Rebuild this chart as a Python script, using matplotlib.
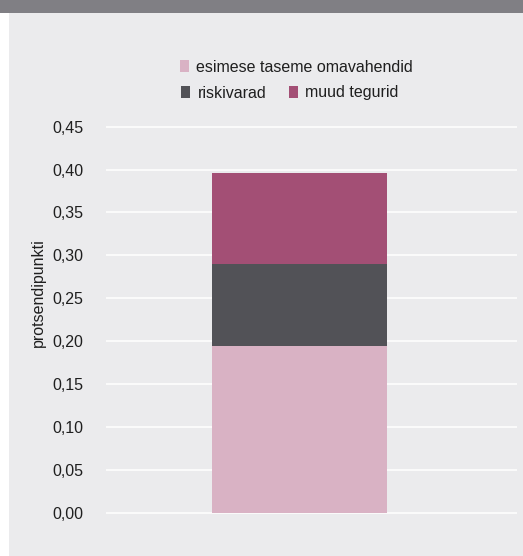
import matplotlib.pyplot as plt
from matplotlib.patches import Rectangle

plt.rcParams['font.family'] = ['Liberation Sans', 'DejaVu Sans']

# Stacked components (percentage points)
categories = ['']
tier1_capital = [0.194]
risk_assets = [0.096]
other_factors = [0.106]

series_labels = ['esimese taseme omavahendid', 'riskivarad', 'muud tegurid']
series_colors = ['#d9b2c4', '#525257', '#a34f75']
yticks = [0.00, 0.05, 0.10, 0.15, 0.20, 0.25, 0.30, 0.35, 0.40, 0.45]

W, H = 523, 556
fig = plt.figure(figsize=(W / 100, H / 100), dpi=100)
fig.patch.set_facecolor('white')

# panel background and top band
fig.patches.append(Rectangle((9 / W, 0), 1 - 9 / W, 1 - 13 / H, transform=fig.transFigure,
                             facecolor='#ebebed', edgecolor='none', zorder=-2))
fig.patches.append(Rectangle((0, 1 - 13 / H), 1, 13 / H, transform=fig.transFigure,
                             facecolor='#807f84', edgecolor='none', zorder=-2))

pad = 0.003
ppu = 386 / 0.45
ax_bottom = (H - 512.7 - pad * ppu) / H
ax_height = (386 + 2 * pad * ppu) / H
ax = fig.add_axes([106 / W, ax_bottom, 411 / W, ax_height])
ax.set_facecolor('none')

x = [0]
width = 0.4258
b1 = ax.bar(x, tier1_capital, width=width, color=series_colors[0], zorder=3)
b2 = ax.bar(x, risk_assets, width=width, bottom=tier1_capital, color=series_colors[1], zorder=3)
bottom3 = [a + b for a, b in zip(tier1_capital, risk_assets)]
b3 = ax.bar(x, other_factors, width=width, bottom=bottom3, color=series_colors[2], zorder=3)

ax.set_xlim(-0.4708, 0.5292)
ax.set_ylim(-pad, 0.45 + pad)
ax.set_yticks(yticks)
ax.set_yticklabels([f'{v:.2f}'.replace('.', ',') for v in yticks], fontsize=11.5, color='#1f1f1f')
ax.set_xticks([])
ax.tick_params(axis='y', length=0, pad=16.5)
ax.grid(axis='y', color='white', linewidth=1.1, zorder=0)
for s in ax.spines.values():
    s.set_visible(False)

fig.text(38 / W, 1 - 292.5 / H, 'protsendipunkti', rotation=90, ha='center', va='center',
         fontsize=11.5, color='#1f1f1f')

leg_kw = dict(frameon=False, fontsize=11.5, handlelength=0.56, handleheight=0.8,
              handletextpad=0.44, borderpad=0, borderaxespad=0, labelcolor='#1f1f1f')
fig.legend([b1], [series_labels[0]], loc='center', bbox_to_anchor=(296 / W, 1 - 67 / H), **leg_kw)
fig.legend([b2, b3], series_labels[1:], loc='center', ncol=2, columnspacing=1.44,
           bbox_to_anchor=(290 / W, 1 - 93 / H), **leg_kw)

fig.savefig('out.png', dpi=100)
